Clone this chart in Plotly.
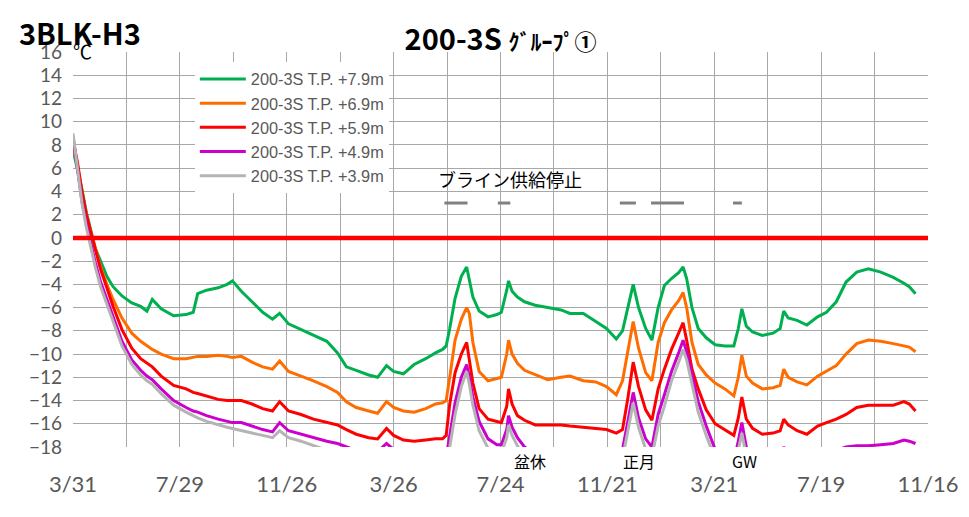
import plotly.graph_objects as go

dates = [
    "2021-03-31", "2021-04-05", "2021-04-10", "2021-04-15", "2021-04-20", "2021-04-25",
    "2021-05-01", "2021-05-08", "2021-05-15", "2021-05-25", "2021-06-05", "2021-06-15",
    "2021-06-22", "2021-06-28", "2021-07-08", "2021-07-22", "2021-08-05", "2021-08-13",
    "2021-08-18", "2021-08-28", "2021-09-10", "2021-09-20", "2021-09-26", "2021-10-06",
    "2021-10-18", "2021-10-30", "2021-11-10", "2021-11-18", "2021-11-28", "2021-12-12",
    "2021-12-26", "2022-01-10", "2022-01-22", "2022-02-01", "2022-02-12", "2022-02-26",
    "2022-03-08", "2022-03-18", "2022-03-26", "2022-04-06", "2022-04-18", "2022-05-01",
    "2022-05-12", "2022-05-20", "2022-05-24", "2022-05-28", "2022-06-03", "2022-06-10",
    "2022-06-16", "2022-06-19", "2022-06-23", "2022-06-30", "2022-07-10", "2022-07-20",
    "2022-07-25", "2022-07-31", "2022-08-02", "2022-08-06", "2022-08-12", "2022-08-20",
    "2022-09-01", "2022-09-15", "2022-09-30", "2022-10-10", "2022-10-25", "2022-11-08",
    "2022-11-20", "2022-12-01", "2022-12-08", "2022-12-14", "2022-12-20", "2022-12-26",
    "2023-01-03", "2023-01-10", "2023-01-17", "2023-01-24", "2023-02-01", "2023-02-09",
    "2023-02-14", "2023-02-18", "2023-02-24", "2023-03-03", "2023-03-12", "2023-03-22",
    "2023-04-02", "2023-04-12", "2023-04-17", "2023-04-21", "2023-04-26", "2023-05-03",
    "2023-05-14", "2023-05-26", "2023-06-03", "2023-06-07", "2023-06-12", "2023-06-22",
    "2023-07-03", "2023-07-15", "2023-07-25", "2023-08-05", "2023-08-16", "2023-08-28",
    "2023-09-10", "2023-09-24", "2023-10-08", "2023-10-20", "2023-10-26", "2023-11-02",
]

tp_79 = [
    7.6, 6.0, 4.2, 2.2, 0.6, -0.9, -2.0, -3.3, -4.2, -5.0, -5.6, -5.9,
    -6.3, -5.3, -6.1, -6.7, -6.6, -6.4, -4.8, -4.5, -4.3, -4.0, -3.7, -4.6,
    -5.5, -6.4, -7.0, -6.5, -7.4, -7.9, -8.4, -8.9, -9.9, -11.1, -11.4, -11.8,
    -12.0, -11.0, -11.5, -11.7, -10.9, -10.4, -9.9, -9.6, -9.3, -7.8, -5.2, -3.3,
    -2.5, -3.6, -5.1, -6.3, -6.8, -6.6, -6.4, -4.5, -3.7, -4.6, -5.1, -5.5,
    -5.8, -6.0, -6.2, -6.5, -6.5, -7.2, -7.8, -8.7, -8.0, -6.0, -4.0, -6.0,
    -7.8, -8.8, -6.0, -4.1, -3.5, -3.0, -2.5, -3.5, -6.0, -7.8, -8.6, -9.2,
    -9.3, -9.3, -7.8, -6.1, -7.6, -8.1, -8.4, -8.2, -7.8, -6.3, -6.9, -7.1,
    -7.5, -6.8, -6.4, -5.5, -3.8, -2.95, -2.67, -2.95, -3.4, -3.9, -4.2, -4.8,
]

tp_69 = [
    8.0, 6.3, 4.0, 2.0, 0.5, -0.9, -2.5, -4.0, -5.3, -6.9, -8.2, -8.9,
    -9.3, -9.6, -10.0, -10.4, -10.4, -10.3, -10.2, -10.2, -10.1, -10.2, -10.3, -10.2,
    -10.7, -11.1, -11.3, -10.6, -11.5, -11.9, -12.3, -12.8, -13.3, -14.1, -14.6, -14.9,
    -15.1, -14.1, -14.6, -14.9, -15.0, -14.7, -14.3, -14.2, -14.0, -12.0, -8.8, -7.0,
    -6.0, -6.5, -9.0, -11.5, -12.3, -12.1, -12.0, -10.0, -8.8, -10.0, -10.8, -11.4,
    -11.8, -12.2, -12.0, -11.9, -12.3, -12.4, -12.8, -13.5, -12.3, -9.8, -7.2, -9.5,
    -11.6, -12.3, -9.0, -7.3, -6.2, -5.4, -4.7, -6.0, -9.0, -10.9, -11.8, -12.5,
    -13.0, -13.6, -12.0, -10.1, -11.9, -12.5, -13.0, -12.9, -12.7, -11.3, -12.0, -12.4,
    -12.65, -11.9, -11.5, -11.0, -10.0, -9.1, -8.8, -8.9, -9.1, -9.3, -9.4, -9.8,
]

tp_59 = [
    8.4, 6.5, 4.0, 2.0, 0.5, -1.0, -2.7, -4.3, -5.9, -7.9, -9.5, -10.4,
    -10.8, -11.1, -11.9, -12.7, -13.0, -13.3, -13.4, -13.6, -13.9, -14.0, -14.0, -14.0,
    -14.3, -14.7, -14.9, -14.1, -14.9, -15.2, -15.6, -15.9, -16.1, -16.5, -16.9, -17.2,
    -17.3, -16.4, -17.0, -17.4, -17.5, -17.4, -17.3, -17.3, -17.0, -14.3, -11.6, -10.0,
    -9.0, -10.5, -12.5, -14.7, -15.6, -15.8, -15.9, -14.5, -13.0, -14.3, -15.3, -15.7,
    -16.1, -16.1, -16.1, -16.2, -16.3, -16.4, -16.5, -16.8, -16.5, -13.8, -10.7, -12.8,
    -14.8, -15.7, -13.0, -11.3, -9.6, -8.2, -7.3, -8.8, -11.3, -13.0, -14.8, -16.0,
    -16.5, -17.0, -15.5, -13.7, -15.6, -16.4, -16.9, -16.8, -16.6, -15.6, -16.1, -16.6,
    -16.9, -16.2, -15.9, -15.6, -15.2, -14.6, -14.4, -14.4, -14.4, -14.1, -14.3, -14.9,
]

tp_49 = [
    8.7, 6.0, 3.2, 1.2, -0.6, -2.1, -3.8, -5.3, -6.9, -8.9, -10.5, -11.4,
    -11.9, -12.2, -13.0, -14.0, -14.6, -14.9, -15.0, -15.3, -15.6, -15.8, -15.9, -15.9,
    -16.2, -16.5, -16.7, -15.9, -16.6, -16.9, -17.2, -17.5, -17.7, -18.0, -18.3, -18.5,
    -18.4, -17.7, -18.2, -18.6, -18.8, -18.8, -18.8, -18.8, -18.9, -17.0, -14.2, -12.0,
    -10.9, -12.0, -13.7, -15.8, -17.3, -17.8, -17.8, -16.5, -15.3, -16.3, -17.2, -18.0,
    -18.6, -18.9, -19.0, -19.0, -19.1, -19.1, -19.1, -19.2, -18.2, -15.8, -13.3, -15.5,
    -17.3, -18.0, -15.2, -13.5, -11.5, -9.9, -8.8, -9.8, -11.8, -14.1, -16.2, -18.2,
    -19.0, -19.2, -17.5, -15.9, -18.0, -19.0, -19.2, -19.1, -18.8, -18.0, -18.6, -19.0,
    -19.1, -18.8, -18.5, -18.3, -18.0, -17.9, -17.9, -17.8, -17.7, -17.4, -17.5, -17.7,
]

tp_39 = [
    9.0, 6.2, 3.0, 0.9, -0.9, -2.5, -4.2, -5.7, -7.3, -9.3, -10.9, -11.8,
    -12.3, -12.6, -13.4, -14.4, -15.0, -15.3, -15.5, -15.8, -16.1, -16.3, -16.4, -16.6,
    -16.8, -17.0, -17.2, -16.6, -17.2, -17.5, -17.9, -18.3, -18.6, -19.0, -19.2, -19.4,
    -19.4, -18.8, -19.2, -19.5, -19.6, -19.6, -19.6, -19.6, -19.6, -18.0, -15.2, -12.8,
    -11.5, -12.6, -14.4, -16.6, -18.1, -18.5, -18.5, -17.2, -16.1, -17.0, -17.9, -18.8,
    -19.3, -19.6, -19.7, -19.7, -19.8, -19.8, -19.8, -19.9, -19.0, -16.6, -14.2, -16.3,
    -18.2, -18.8, -16.2, -14.5, -12.3, -10.7, -9.6, -10.5, -12.6, -15.0, -17.0, -19.0,
    -19.7, -20.0, -18.3, -16.8, -18.8, -19.7, -19.9, -19.9, -19.7, -19.0, -19.5, -19.8,
    -19.9, -19.7, -19.5, -19.3, -19.0, -18.8, -18.7, -18.6, -18.5, -18.3, -18.4, -18.5,
]

series_names = [
    "200-3S T.P. +7.9m", "200-3S T.P. +6.9m", "200-3S T.P. +5.9m",
    "200-3S T.P. +4.9m", "200-3S T.P. +3.9m",
]
series_values = [tp_79, tp_69, tp_59, tp_49, tp_39]
series_colors = ["#00b050", "#ff6d00", "#ff0000", "#cc00cc", "#b4b4b4"]

# brine supply stop periods (start, end)
brine_stop_periods = [
    ("2022-05-22", "2022-06-17"),
    ("2022-07-21", "2022-08-04"),
    ("2022-12-05", "2022-12-23"),
    ("2023-01-09", "2023-02-15"),
    ("2023-04-11", "2023-04-21"),
]
brine_stop_level = 3.0

tick_dates = [
    "2021-03-31", "2021-05-30", "2021-07-29", "2021-09-27", "2021-11-26", "2022-01-25",
    "2022-03-26", "2022-05-25", "2022-07-24", "2022-09-22", "2022-11-21", "2023-01-20",
    "2023-03-21", "2023-05-20", "2023-07-19", "2023-09-17", "2023-11-16",
]
tick_labels = ["3/31", "", "7/29", "", "11/26", "", "3/26", "", "7/24", "", "11/21", "",
               "3/21", "", "7/19", "", "11/16"]

event_labels = [("2022-08-26", "盆休"), ("2022-12-26", "正月"), ("2023-04-24", "GW")]

fig = go.Figure()

for name, vals, col in zip(series_names, series_values, series_colors):
    fig.add_trace(go.Scatter(x=dates, y=vals, name=name, mode="lines",
                             line=dict(color=col, width=3)))

bx, by = [], []
for s, e in brine_stop_periods:
    bx += [s, e, None]
    by += [brine_stop_level, brine_stop_level, None]
fig.add_trace(go.Scatter(x=bx, y=by, mode="lines", showlegend=False,
                         line=dict(color="#808080", width=3)))

# zero line
fig.add_shape(type="line", xref="paper", yref="y", x0=0, x1=1, y0=0, y1=0,
              line=dict(color="#ff0000", width=4.5))

grid = "#a8a8a8"
xtickfont = dict(family="Lato, Noto Sans CJK JP", size=22, color="#595959")
ytickfont = dict(family="Lato, Noto Sans CJK JP", size=19, color="#595959")

fig.update_xaxes(type="date", range=[tick_dates[0], tick_dates[-1]],
                 tickmode="array", tickvals=tick_dates, ticktext=tick_labels,
                 showgrid=True, gridcolor=grid, gridwidth=1.4, zeroline=False,
                 showline=False, ticks="", tickfont=xtickfont, ticklabelstandoff=22,
                 automargin=False)
fig.update_yaxes(range=[-18, 16], dtick=2, tick0=0, showgrid=True, gridcolor=grid,
                 gridwidth=1.4, zeroline=False, showline=False, ticks="",
                 tickfont=ytickfont, ticklabelstandoff=10, automargin=False)

jp = "Noto Sans CJK JP"
annotations = [
    dict(text="<b>3BLK-H3</b>", xref="paper", yref="paper", x=-0.066, y=1.05,
         xanchor="left", yanchor="middle", showarrow=False,
         font=dict(family=jp, size=29, color="black")),
    dict(text="℃", xref="paper", yref="paper", x=-0.002, y=1.005,
         xanchor="left", yanchor="middle", showarrow=False,
         font=dict(family=jp, size=19, color="black")),
    dict(text="ブライン供給停止", xref="x", yref="y", x="2022-08-04", y=5.1,
         xanchor="center", yanchor="middle", showarrow=False,
         font=dict(family=jp, size=18, color="black")),
]
for d, t in event_labels:
    annotations.append(dict(text=t, xref="x", yref="paper", x=d, y=-0.035,
                            xanchor="center", yanchor="middle", showarrow=False,
                            font=dict(family=jp, size=16, color="black")))

fig.update_layout(
    width=969, height=517,
    margin=dict(l=73, r=41, t=52, b=70),
    paper_bgcolor="white", plot_bgcolor="white",
    title=dict(text="<b>200-3S <span style='font-size:22px'>ｸﾞﾙｰﾌﾟ①</span></b>",
               x=0.5, xref="paper", xanchor="center", y=0.923, yref="container",
               yanchor="middle", font=dict(family=jp, size=29, color="black")),
    legend=dict(x=0.1425, y=0.975, xanchor="left", yanchor="top",
                bgcolor="white", borderwidth=0, itemwidth=46,
                font=dict(family="Liberation Sans", size=16.3, color="#595959")),
    annotations=annotations,
    showlegend=True,
)

fig.write_html("out.html", config={"displayModeBar": False},
               post_script="document.body.style.margin='0px';document.body.style.overflow='hidden';")
